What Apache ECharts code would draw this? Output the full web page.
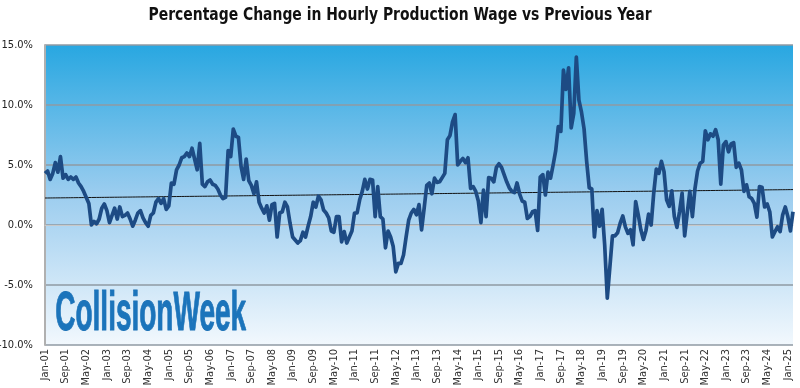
<!DOCTYPE html>
<html>
<head>
<meta charset="utf-8">
<script src="https://cdn.jsdelivr.net/npm/echarts@6/dist/echarts.min.js"></script>
<style>
html,body{margin:0;padding:0;background:#fff;}
#c{width:800px;height:388px;}
</style>
</head>
<body>
<div id="c"></div>
<script>
var title = 'Percentage Change in Hourly Production Wage vs Previous Year';
var monthNames = ['Jan','Feb','Mar','Apr','May','Jun','Jul','Aug','Sep','Oct','Nov','Dec'];
var startYear = 2001;
var wageChange = [
 4.3,4.5,3.8,4.3,5.2,4.4,5.7,3.9,4.2,3.8,4.0,3.8,4.0,3.5,3.2,2.8,2.3,1.8,
 0.0,0.3,0.1,0.5,1.4,1.75,1.2,0.2,0.8,1.4,0.5,1.5,0.7,0.8,1.0,0.5,-0.1,0.4,
 1.0,1.2,0.6,0.2,-0.1,0.8,1.0,1.9,2.2,1.8,2.2,1.3,1.6,3.5,3.4,4.6,5.0,5.6,
 5.7,6.0,5.7,6.4,5.5,4.6,6.8,3.4,3.2,3.6,3.75,3.4,3.3,3.0,2.5,2.2,2.3,6.2,
 5.7,8.0,7.4,7.3,4.9,3.8,5.5,3.7,3.3,2.6,3.6,1.9,1.4,1.0,1.6,0.4,1.7,1.8,
 -1.0,1.0,1.1,1.9,1.5,0.15,-1.0,-1.25,-1.5,-1.3,-0.6,-1.0,-0.1,0.7,1.9,1.5,2.4,2.1,
 1.25,1.0,0.6,-0.5,-0.6,0.7,0.7,-1.4,-0.55,-1.5,-1.0,-0.5,1.0,1.0,2.1,2.8,3.8,3.0,
 3.8,3.75,0.7,3.2,0.7,0.5,-1.9,-0.5,-1.0,-1.8,-3.9,-3.2,-3.2,-2.5,-1.0,0.4,1.0,1.3,0.85,1.7,
 -0.4,1.4,3.3,3.5,2.6,3.9,3.55,3.6,3.95,4.3,7.1,7.45,8.6,9.2,5.0,5.3,5.55,5.2,
 5.6,3.05,3.2,2.8,2.0,0.2,2.9,0.7,3.95,3.9,3.6,4.8,5.1,4.8,4.2,3.6,3.1,2.8,
 2.7,3.5,2.6,2.0,1.9,0.55,0.7,1.1,1.2,-0.45,4.0,4.2,2.5,4.4,3.9,5.0,6.2,8.2,
 7.8,12.9,11.3,13.1,8.1,9.3,14.0,10.4,9.4,8.0,5.3,3.1,3.0,-1.0,1.2,-0.1,1.3,-1.7,
 -6.1,-3.5,-0.9,-0.9,-0.65,0.15,0.75,-0.15,-0.7,-0.4,-1.65,1.95,0.85,-0.4,-1.2,-0.45,0.9,0.0,
 2.65,4.65,4.3,5.3,4.45,2.1,1.55,2.85,0.7,-0.2,1.1,2.65,-0.9,1.0,2.8,0.7,3.05,4.5,5.15,5.3,
 7.85,7.1,7.6,7.4,7.95,7.1,3.4,6.65,6.95,6.1,6.75,6.85,4.8,5.15,4.6,2.8,3.35,2.35,
 2.2,1.8,0.65,3.2,3.15,1.5,1.75,1.1,-1.0,-0.55,-0.15,-0.55,0.85,1.5,0.7,-0.5,1.1
];
var yTicks = [-10, -5, 0, 5, 10, 15];
var logoText = 'CollisionWeek';

var months = [];
for (var i = 0; i < wageChange.length; i++) {
  var m = i % 12, y = startYear + Math.floor(i / 12);
  months.push(monthNames[m] + '-' + String(y % 100).padStart(2, '0'));
}
// linear trendline (least squares)
var n = wageChange.length, sx = 0, sy = 0, sxy = 0, sxx = 0;
for (var k = 0; k < n; k++) { sx += k; sy += wageChange[k]; sxy += k * wageChange[k]; sxx += k * k; }
var slope = (n * sxy - sx * sy) / (n * sxx - sx * sx);
var icpt = (sy - slope * sx) / n;
var trend = wageChange.map(function (_, k) { return +(icpt + slope * k).toFixed(3); });

var chart = echarts.init(document.getElementById('c'));
var font = '"DejaVu Sans Condensed", "Liberation Sans Narrow", sans-serif';
chart.setOption({
  animation: false,
  backgroundColor: '#ffffff',
  grid: {
    left: 45, right: 7, top: 45, bottom: 43, show: true, borderWidth: 0,
    containLabel: false, outerBoundsMode: 'none',
    backgroundColor: {
      type: 'linear', x: 0, y: 0, x2: 0, y2: 1,
      colorStops: [
        { offset: 0, color: '#28a7e1' },
        { offset: 0.5, color: '#9ccdef' },
        { offset: 1, color: '#f2f8fd' }
      ]
    }
  },
  xAxis: {
    type: 'category', data: months, boundaryGap: false,
    axisLine: { show: true, lineStyle: { color: '#c8c8c8', width: 1 } },
    axisTick: { show: false },
    axisLabel: { interval: 7, rotate: 90, fontFamily: font, fontSize: 11, color: '#333', margin: 4 },
    splitLine: { show: false }
  },
  yAxis: {
    type: 'value', min: -10, max: 15, interval: 5,
    axisLine: { show: true, lineStyle: { color: '#b0b0b0', width: 2 } },
    axisTick: { show: false },
    axisLabel: { fontFamily: font, fontSize: 11, color: '#222', margin: 12,
      formatter: function (v) { return v.toFixed(1) + '%'; } },
    splitLine: { show: true, lineStyle: { color: '#8f9aa3', width: 1.5 } }
  },
  graphic: [{
    type: 'text', x: 400, y: 6, z: 50, scaleX: 0.86, originX: 0,
    style: { text: title, align: 'center', fontFamily: font, fontWeight: 'bold', fontSize: 18, fill: '#111' }
  }, {
    type: 'text', left: 55, top: 286, z: 50,
    scaleX: 0.5,
    style: { text: logoText, fontFamily: '"Liberation Sans", sans-serif', fontWeight: 'bold', fontSize: 56,
      fill: '#1b74bb', stroke: '#1b6fb3', lineWidth: 1 }
  }],
  series: [{
    type: 'line', data: wageChange, symbol: 'none', z: 5,
    lineStyle: { color: '#1d4b84', width: 3.7, join: 'round' }
  }, {
    type: 'line', data: trend, symbol: 'none', z: 4,
    lineStyle: { color: '#111', width: 1 }
  }]
});
</script>
</body>
</html>
